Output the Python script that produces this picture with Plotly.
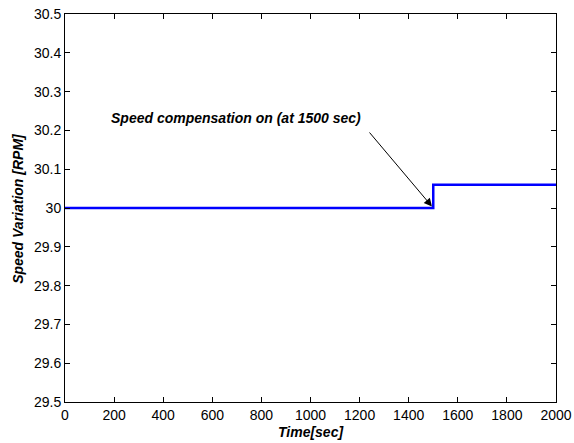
import plotly.graph_objects as go

time_sec = [0, 1500, 1500, 2000]
speed_rpm = [30.0, 30.0, 30.06, 30.06]
x_ticks = [0, 200, 400, 600, 800, 1000, 1200, 1400, 1600, 1800, 2000]
y_ticks = [29.5, 29.6, 29.7, 29.8, 29.9, 30.0, 30.1, 30.2, 30.3, 30.4, 30.5]
y_tick_labels = ["29.5", "29.6", "29.7", "29.8", "29.9", "30", "30.1", "30.2", "30.3", "30.4", "30.5"]
annotation_text = "Speed compensation on (at 1500 sec)"
x_title = "Time[sec]"
y_title = "Speed Variation [RPM]"

fig = go.Figure()
fig.add_trace(go.Scatter(x=time_sec, y=speed_rpm, mode="lines",
                         line=dict(color="#0000ff", width=2.5), showlegend=False))

font = "Liberation Sans, Arial, sans-serif"
axis_common = dict(showgrid=False, zeroline=False, showline=True, linecolor="black", linewidth=1,
                   mirror="ticks", ticks="inside", ticklen=5, tickcolor="black", automargin=False,
                   tickfont=dict(family=font, size=14, color="black"))

fig.update_layout(
    width=574, height=443,
    margin=dict(l=65, r=18, t=14, b=41),
    paper_bgcolor="white", plot_bgcolor="white",
    xaxis=dict(range=[0, 2000], tickvals=x_ticks, ticktext=[str(v) for v in x_ticks], **axis_common),
    yaxis=dict(range=[29.5, 30.5], tickvals=y_ticks, ticktext=y_tick_labels, **axis_common),
)

fig.add_annotation(x=0.5, y=-0.077, xref="paper", yref="paper", text="<b><i>" + x_title + "</i></b>",
                   showarrow=False, yanchor="middle", font=dict(family=font, size=14, color="black"))
fig.add_annotation(x=-0.096, y=0.5, xref="paper", yref="paper", text="<b><i>" + y_title + "</i></b>",
                   showarrow=False, textangle=-90, xanchor="center", font=dict(family=font, size=14, color="black"))

fig.add_annotation(x=1500, y=30.0, xref="x", yref="y", text="", showarrow=True,
                   ax=-65, ay=-77, arrowhead=2, arrowsize=1.6, arrowwidth=1, arrowcolor="black", standoff=2)
fig.add_annotation(x=697, y=30.232, xref="x", yref="y", text="<b><i>" + annotation_text + "</i></b>",
                   showarrow=False, font=dict(family=font, size=14, color="black"))

fig.write_html("out.html", config={"displayModeBar": False},
               post_script="document.body.style.margin='0';document.body.style.overflow='hidden';")
